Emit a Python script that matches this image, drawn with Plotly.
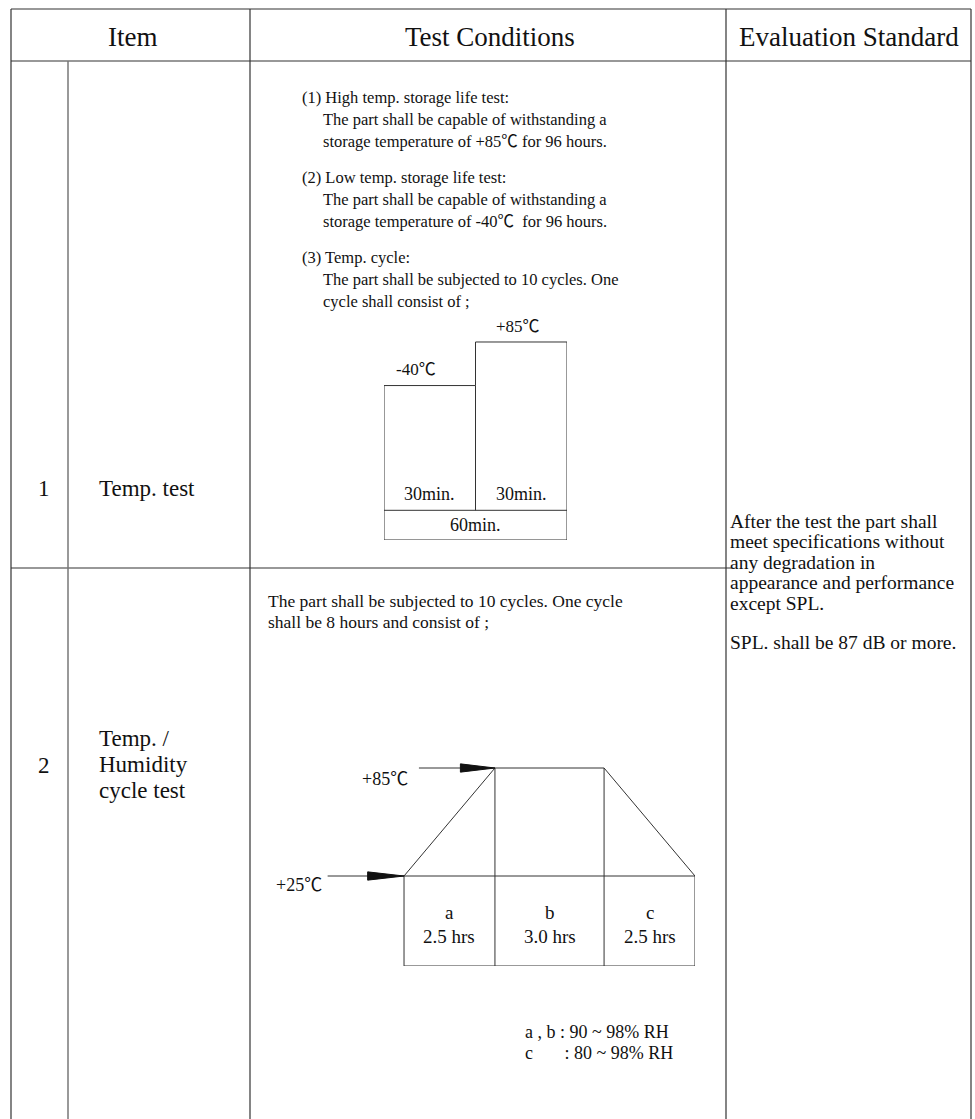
import plotly.graph_objects as go

W, H = 975, 1119

# ---------------- data ----------------
headers = ["Item", "Test Conditions", "Evaluation Standard"]
item_numbers = ["1", "2"]
item1_name = ["Temp. test"]
item2_name = ["Temp. /", "Humidity", "cycle test"]

row1_paragraphs = [
    ["(1) High temp. storage life test:",
     "The part shall be capable of withstanding a",
     "storage temperature of +85\u2103 for 96 hours."],
    ["(2) Low temp. storage life test:",
     "The part shall be capable of withstanding a",
     "storage temperature of -40\u2103  for 96 hours."],
    ["(3) Temp. cycle:",
     "The part shall be subjected to 10 cycles. One",
     "cycle shall consist of ;"],
]
row2_lines = ["The part shall be subjected to 10 cycles. One cycle",
              "shall be 8 hours and consist of ;"]

eval_lines = ["After the test the part shall",
              "meet specifications without",
              "any degradation in",
              "appearance and performance",
              "except SPL."]
eval_spl = "SPL. shall be 87 dB or more."

# temp cycle (minutes)
cycle_temps = ["-40\u2103", "+85\u2103"]
cycle_durations = [30, 30]          # min
cycle_total_label = "60min."

# humidity cycle (hours / deg C)
hum_phase_names = ["a", "b", "c"]
hum_phase_hours = [2.5, 3.0, 2.5]
hum_temps = [25, 85]
hum_temp_labels = ["+25\u2103", "+85\u2103"]
rh_lines = ["a , b : 90 ~ 98% RH", "c\u2003\u2002 : 80 ~ 98% RH"]

# ---------------- layout constants (pixels) ----------------
X_L, X_NUM, X_ITEM, X_TEST, X_R = 11, 68, 250, 726, 971
Y_TOP, Y_HEAD, Y_SEP = 9, 61, 568
LINE = "#333333"
FONT = "Liberation Serif, Times New Roman, Noto Sans CJK TC, serif"
TXT = "#111111"

fig = go.Figure()

def px(x):
    return x / W

def py(y):
    return 1 - y / H

def hline(x0, x1, y, width=1.2, color=LINE):
    fig.add_shape(type="line", xref="x", yref="y", x0=x0, x1=x1, y0=y, y1=y,
                  line=dict(color=color, width=width))

def vline(x, y0, y1, width=1.2, color=LINE):
    fig.add_shape(type="line", xref="x", yref="y", x0=x, x1=x, y0=y0, y1=y1,
                  line=dict(color=color, width=width))

def text(x, y, s, size=17, anchor="left", xref="x", yref="y"):
    fig.add_annotation(x=x, y=y, xref=xref, yref=yref, text=s, showarrow=False,
                       xanchor=anchor, yanchor="middle",
                       font=dict(family=FONT, size=size, color=TXT))

# table frame
hline(X_L, X_R, Y_TOP)
hline(X_L, X_R, Y_HEAD)
hline(X_L, X_TEST + 6, Y_SEP, width=1.1)
for x in (X_L, X_ITEM, X_TEST, X_R):
    vline(x, Y_TOP, H)
vline(X_NUM, Y_HEAD, H, color="#777777", width=1.5)

# headers
head_x = [(X_L + X_ITEM) / 2 + 2, (X_ITEM + X_TEST) / 2 + 2, (X_TEST + X_R) / 2]
for hx, h in zip(head_x, headers):
    text(hx, 37, h, size=27, anchor="center")

# item column
text(44, 488, item_numbers[0], size=23, anchor="center")
text(44, 765, item_numbers[1], size=23, anchor="center")
text(97, 488, item1_name[0], size=23)
for i, s in enumerate(item2_name):
    text(97, 738 + 26 * i, s, size=23)

# row 1 test conditions
para_y = [97, 177, 257]
for p, y0 in zip(row1_paragraphs, para_y):
    for i, s in enumerate(p):
        text(300 if i == 0 else 321, y0 + 22 * i, s, size=16.5)

# row 2 test conditions
for i, s in enumerate(row2_lines):
    text(266, 601 + 21 * i, s, size=17.5)
for i, s in enumerate(rh_lines):
    text(523, 1032 + 21 * i, s, size=18)

# evaluation standard
for i, s in enumerate(eval_lines):
    text(X_TEST + 2, 521 + 20.5 * i, s, size=19.5)
text(X_TEST + 2, 642, eval_spl, size=19.5)

# ---------------- temp cycle diagram (axis 2: minutes x level) ----------------
t_total = sum(cycle_durations)
LOW_TOP, HIGH_TOP, MID = 0.78, 1.0, 0.15
t1 = cycle_durations[0]
box_x = [0, t1, t1, t_total, t_total, 0, 0]
box_y = [LOW_TOP, LOW_TOP, HIGH_TOP, HIGH_TOP, 0, 0, LOW_TOP]
fig.add_trace(go.Scatter(x=box_x, y=box_y, mode="lines", xaxis="x2", yaxis="y2",
                         line=dict(color=LINE, width=1), hoverinfo="skip", cliponaxis=False))
fig.add_trace(go.Scatter(x=[0, t_total, None, t1, t1], y=[MID, MID, None, MID, LOW_TOP],
                         mode="lines", xaxis="x2", yaxis="y2",
                         line=dict(color=LINE, width=1), hoverinfo="skip", cliponaxis=False))
text(10.5, LOW_TOP + 0.08, cycle_temps[0], size=17, anchor="center", xref="x2", yref="y2")
text(t1 + cycle_durations[1] / 2 - 1, HIGH_TOP + 0.08, cycle_temps[1], size=17, anchor="center", xref="x2", yref="y2")
text(t1 / 2, MID + 0.08, f"{cycle_durations[0]}min.", size=18, anchor="center", xref="x2", yref="y2")
text(t1 + cycle_durations[1] / 2, MID + 0.08, f"{cycle_durations[1]}min.", size=18, anchor="center", xref="x2", yref="y2")
text(t_total / 2, MID / 2, cycle_total_label, size=18, anchor="center", xref="x2", yref="y2")

# ---------------- humidity cycle diagram (axis 3: hours x deg C) ----------------
ha, hb, hc = hum_phase_hours
T0, T1 = hum_temps
h_tot = ha + hb + hc
BOT = -25
profile_x = [0, ha, ha + hb, h_tot]
profile_y = [T0, T1, T1, T0]
fig.add_trace(go.Scatter(x=profile_x, y=profile_y, mode="lines", xaxis="x3", yaxis="y3",
                         line=dict(color=LINE, width=1), hoverinfo="skip", cliponaxis=False))
# table under profile
fig.add_trace(go.Scatter(
    x=[-2.1, h_tot, None, 0, 0, h_tot, h_tot, None, ha, ha, None, ha + hb, ha + hb],
    y=[T0, T0, None, T0, BOT, BOT, T0, None, T1, BOT, None, T1, BOT],
    mode="lines", xaxis="x3", yaxis="y3", line=dict(color=LINE, width=1),
    hoverinfo="skip", cliponaxis=False))
# +85 arrow shaft
fig.add_trace(go.Scatter(x=[0.41, ha], y=[T1, T1], mode="lines", xaxis="x3", yaxis="y3",
                         line=dict(color=LINE, width=1), hoverinfo="skip", cliponaxis=False))
# arrow heads
for (xs, xe, yy) in [(-1.0, 0, T0), (1.55, ha, T1)]:
    fig.add_trace(go.Scatter(x=[xs, xe, xs, xs], y=[yy + 2.3, yy, yy - 2.3, yy + 2.3],
                             mode="lines", fill="toself", fillcolor="#111111",
                             xaxis="x3", yaxis="y3", line=dict(color="#111111", width=1),
                             hoverinfo="skip", cliponaxis=False))
text(0.17, T1 - 6, hum_temp_labels[1], size=18, anchor="right", xref="x3", yref="y3")
text(-2.2, T0 - 5, hum_temp_labels[0], size=18, anchor="right", xref="x3", yref="y3")
starts = [0, ha, ha + hb]
for s, d, n in zip(starts, hum_phase_hours, hum_phase_names):
    text(s + d / 2, 5, n, size=19, anchor="center", xref="x3", yref="y3")
    text(s + d / 2, -8.5, f"{d:.1f} hrs", size=19, anchor="center", xref="x3", yref="y3")

hidden = dict(visible=False, showgrid=False, zeroline=False, fixedrange=True)
Y2_MAX = 1.15
fig.update_layout(
    width=W, height=H, margin=dict(l=0, r=0, t=0, b=0),
    paper_bgcolor="white", plot_bgcolor="rgba(0,0,0,0)", showlegend=False,
    xaxis=dict(range=[0, W], domain=[0, 1], **hidden),
    yaxis=dict(range=[H, 0], domain=[0, 1], **hidden),
    xaxis2=dict(range=[0, t_total], domain=[px(384), px(567)], anchor="y2", **hidden),
    yaxis2=dict(range=[0, Y2_MAX], domain=[py(540), py(540 - 198 * Y2_MAX)], anchor="x2", **hidden),
    xaxis3=dict(range=[-2.2, h_tot], domain=[px(324), px(695)], anchor="y3", **hidden),
    yaxis3=dict(range=[BOT, 90], domain=[py(966), py(759)], anchor="x3", **hidden),
)

fig.write_html("out.html", config={"displayModeBar": False},
               post_script="document.body.style.margin='0';")
